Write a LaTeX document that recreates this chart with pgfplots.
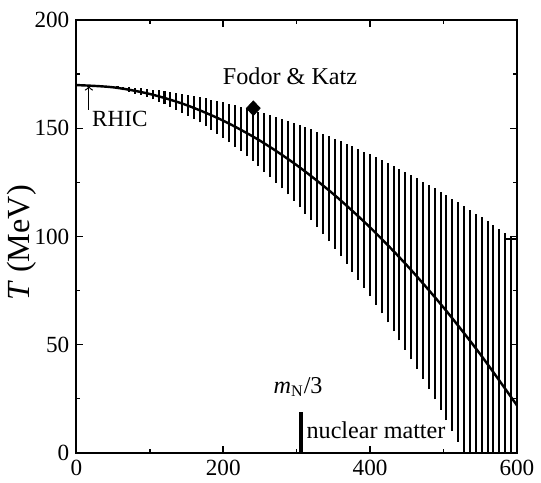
\documentclass[border=0pt]{standalone}
\usepackage{pgfplots}
\pgfplotsset{compat=1.18}
\usepackage{fontspec}
\setmainfont{Liberation Serif}

\begin{document}
\begin{tikzpicture}
\begin{axis}[
    scale only axis,
    width=218bp, height=214bp,
    xmin=0, xmax=600, ymin=0, ymax=200,
    xtick={0,200,400,600}, ytick={0,50,100,150,200},
    minor x tick num=1, minor y tick num=1,
    tick align=inside, tick pos=both,
    major tick length=3.5bp, minor tick length=2bp,
    every tick/.style={black, line width=0.8bp},
    axis line style={line width=1bp},
    /pgf/number format/assume math mode=true,
    ticklabel style={font=\fontsize{11.5}{13}\selectfont},
    ylabel={\textit{T} (MeV)},
    ylabel style={font=\fontsize{16}{18}\selectfont, at={(axis description cs:-0.125,0.485)}, anchor=center},
    unbounded coords=jump,
    clip=false,
]
% hatched band: vertical lines from lower to upper edge
\addplot[black, line width=1bp] coordinates {
(24,169.6)(24,169.9)(nan,nan) (32,169.4)(32,169.8)(nan,nan)
(40,169.0)(40,169.7)(nan,nan) (48,168.6)(48,169.5)(nan,nan)
(56,168.1)(56,169.4)(nan,nan) (64,167.5)(64,169.2)(nan,nan)
(72,166.8)(72,169.0)(nan,nan) (80,166.1)(80,168.7)(nan,nan)
(88,165.3)(88,168.5)(nan,nan) (96,164.4)(96,168.2)(nan,nan)
(104,163.4)(104,167.8)(nan,nan) (112,162.3)(112,167.5)(nan,nan)
(120,161.2)(120,167.1)(nan,nan) (128,160.0)(128,166.7)(nan,nan)
(136,158.7)(136,166.3)(nan,nan) (144,157.3)(144,165.8)(nan,nan)
(152,155.9)(152,165.4)(nan,nan) (160,154.4)(160,164.9)(nan,nan)
(168,152.8)(168,164.3)(nan,nan) (176,151.1)(176,163.8)(nan,nan)
(184,149.3)(184,163.2)(nan,nan) (192,147.5)(192,162.6)(nan,nan)
(200,145.6)(200,162.0)(nan,nan) (208,143.6)(208,161.3)(nan,nan)
(216,141.5)(216,160.6)(nan,nan) (224,139.4)(224,159.9)(nan,nan)
(232,137.2)(232,159.2)(nan,nan) (240,134.9)(240,158.5)(nan,nan)
(248,132.5)(248,157.7)(nan,nan) (256,130.0)(256,156.9)(nan,nan)
(264,127.5)(264,156.0)(nan,nan) (272,124.9)(272,155.2)(nan,nan)
(280,122.2)(280,154.3)(nan,nan) (288,119.4)(288,153.4)(nan,nan)
(296,116.5)(296,152.4)(nan,nan) (304,113.6)(304,151.5)(nan,nan)
(312,110.6)(312,150.5)(nan,nan) (320,107.5)(320,149.5)(nan,nan)
(328,104.3)(328,148.4)(nan,nan) (336,101.1)(336,147.4)(nan,nan)
(344,97.8)(344,146.3)(nan,nan) (352,94.4)(352,145.2)(nan,nan)
(360,90.9)(360,144.0)(nan,nan) (368,87.4)(368,142.8)(nan,nan)
(376,83.7)(376,141.6)(nan,nan) (384,80.0)(384,140.4)(nan,nan)
(392,76.2)(392,139.2)(nan,nan) (400,72.4)(400,137.9)(nan,nan)
(408,68.4)(408,136.6)(nan,nan) (416,64.4)(416,135.3)(nan,nan)
(424,60.3)(424,133.9)(nan,nan) (432,56.1)(432,132.6)(nan,nan)
(440,51.9)(440,131.2)(nan,nan) (448,47.5)(448,129.7)(nan,nan)
(456,43.1)(456,128.3)(nan,nan) (464,38.6)(464,126.8)(nan,nan)
(472,34.0)(472,125.3)(nan,nan) (480,29.4)(480,123.8)(nan,nan)
(488,24.7)(488,122.2)(nan,nan) (496,19.9)(496,120.7)(nan,nan)
(504,15.0)(504,119.1)(nan,nan) (512,10.0)(512,117.4)(nan,nan)
(520,5.0)(520,115.8)(nan,nan) (528,0)(528,114.1)(nan,nan)
(536,0)(536,112.4)(nan,nan) (544,0)(544,110.6)(nan,nan)
(552,0)(552,108.9)(nan,nan) (560,0)(560,107.1)(nan,nan)
(568,0)(568,105.3)(nan,nan) (576,0)(576,103.5)(nan,nan)
(584,0)(584,101.6)(nan,nan) (592,0)(592,99.7)(nan,nan)
(600,0)(600,97.8)(nan,nan) (584,98.6)(600,98.6)
};
% central line
\addplot[black, line width=1.2bp, smooth] coordinates {
(0,170)(50,168.97)(100,165.89)(150,160.74)(200,153.54)(250,144.29)
(300,132.97)(350,119.60)(400,104.18)(450,86.69)(500,67.15)(550,45.55)(600,21.90)
};
% Fodor & Katz point
\addplot[black, only marks, mark=diamond*, mark size=3.6bp, mark options={xscale=1.25}] coordinates {(241,159.3)};
% nuclear matter bar
\addplot[black, line width=2bp] coordinates {(306,0)(306,19)};

\draw[->, line width=0.6bp] (axis cs:17,158.5) -- (axis cs:17,169.5);
\node[anchor=west, inner sep=0pt, font=\fontsize{11.5}{13}\selectfont] at (axis cs:21,154.2) {RHIC};
\node[inner sep=0pt, font=\fontsize{12}{13}\selectfont] at (axis cs:291,174.3) {Fodor \& Katz};
\node[inner sep=0pt, font=\fontsize{12}{13}\selectfont] at (axis cs:302,30.4) {\textit{m}\textsubscript{N}/3};
\node[anchor=west, inner sep=0pt, font=\fontsize{12}{13}\selectfont] at (axis cs:313,10.5) {nuclear matter};
\path (rel axis cs:1,1) -- ++(10bp,10bp);
\end{axis}
\end{tikzpicture}
\end{document}
